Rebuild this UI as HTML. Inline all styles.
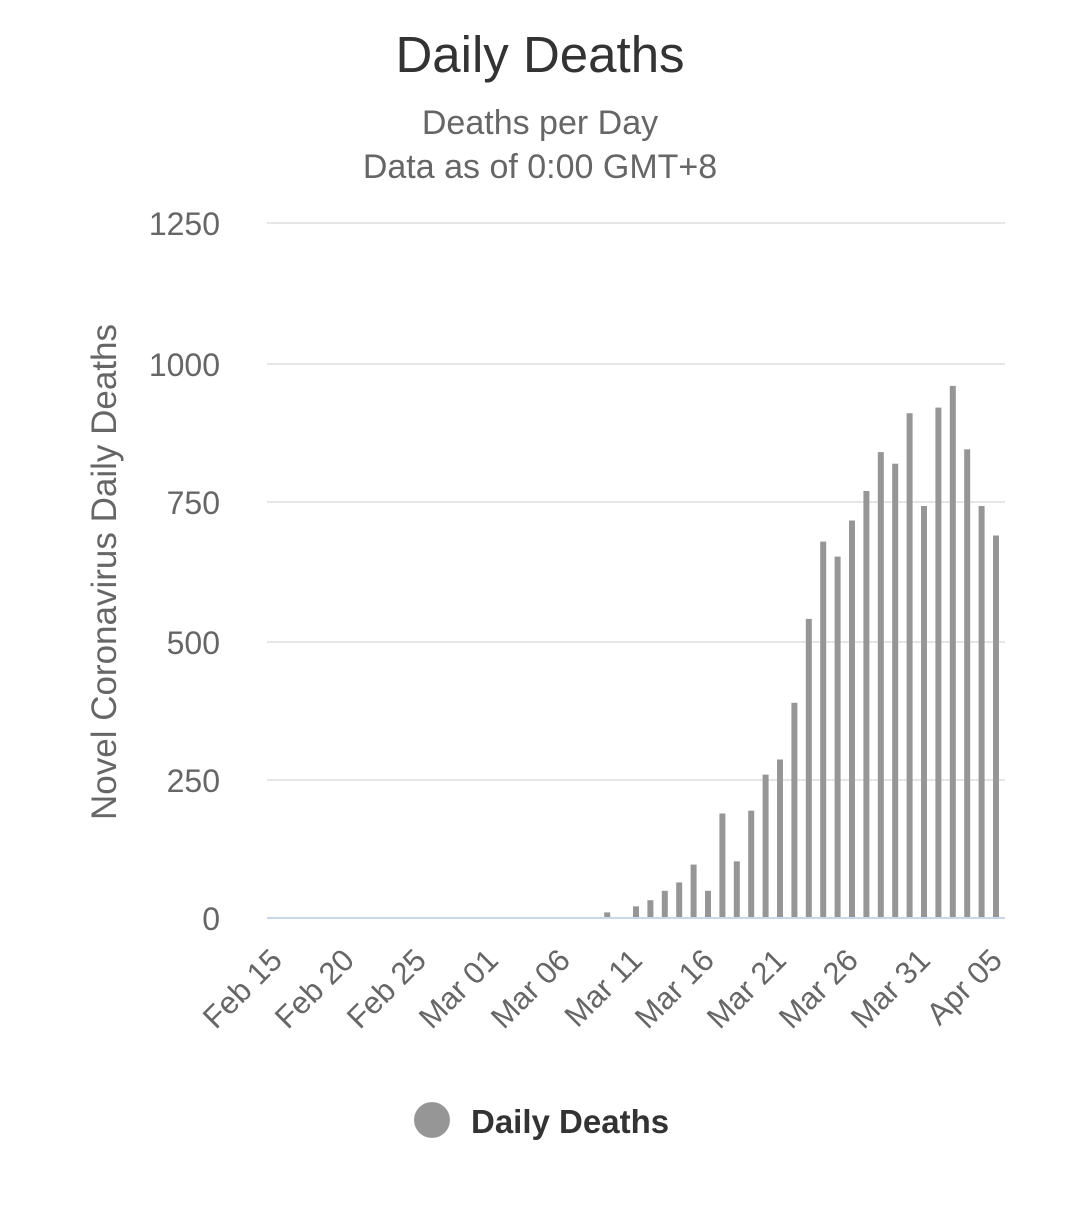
<!DOCTYPE html>
<html><head><meta charset="utf-8"><style>
html,body{margin:0;padding:0;background:#fff;}
svg{display:block;font-family:"Liberation Sans",sans-serif;}
</style></head><body>
<svg width="1079" height="1216" viewBox="0 0 1079 1216">
<rect width="1079" height="1216" fill="#fff"/>
<text x="540" y="72" text-anchor="middle" font-size="51" fill="#333">Daily Deaths</text>
<text x="540" y="134" text-anchor="middle" font-size="34" fill="#666">Deaths per Day</text>
<text x="540" y="178" text-anchor="middle" font-size="34" fill="#666">Data as of 0:00 GMT+8</text>
<g stroke="#e6e6e6" stroke-width="2">
<line x1="267" x2="1005" y1="223" y2="223"/>
<line x1="267" x2="1005" y1="364" y2="364"/>
<line x1="267" x2="1005" y1="502" y2="502"/>
<line x1="267" x2="1005" y1="642" y2="642"/>
<line x1="267" x2="1005" y1="780" y2="780"/>
</g>
<g font-size="32" fill="#666" text-anchor="end">
<text x="220" y="235">1250</text>
<text x="220" y="376">1000</text>
<text x="220" y="514">750</text>
<text x="220" y="654">500</text>
<text x="220" y="792">250</text>
<text x="220" y="930">0</text>
</g>
<text transform="translate(116,572) rotate(-90)" text-anchor="middle" font-size="35" fill="#666">Novel Coronavirus Daily Deaths</text>
<g fill="#969696">
<rect x="604.2" y="912.4" width="6" height="5.6"/>
<rect x="633" y="906.3" width="6" height="11.7"/>
<rect x="647.4" y="900.2" width="6" height="17.8"/>
<rect x="661.8" y="890.8" width="6" height="27.2"/>
<rect x="676.2" y="882.4" width="6" height="35.6"/>
<rect x="690.6" y="864.6" width="6" height="53.4"/>
<rect x="705" y="890.8" width="6" height="27.2"/>
<rect x="719.4" y="813.5" width="6" height="104.5"/>
<rect x="733.8" y="861.3" width="6" height="56.7"/>
<rect x="748.2" y="810.7" width="6" height="107.3"/>
<rect x="762.6" y="774.6" width="6" height="143.4"/>
<rect x="777" y="759.5" width="6" height="158.5"/>
<rect x="791.4" y="702.8" width="6" height="215.2"/>
<rect x="805.8" y="618.9" width="6" height="299.1"/>
<rect x="820.2" y="541.6" width="6" height="376.4"/>
<rect x="834.6" y="556.6" width="6" height="361.4"/>
<rect x="849" y="520.5" width="6" height="397.5"/>
<rect x="863.4" y="491" width="6" height="427"/>
<rect x="877.8" y="452.1" width="6" height="465.9"/>
<rect x="892.2" y="463.7" width="6" height="454.3"/>
<rect x="906.6" y="413.2" width="6" height="504.8"/>
<rect x="921" y="506" width="6" height="412"/>
<rect x="935.4" y="407.6" width="6" height="510.4"/>
<rect x="949.8" y="385.9" width="6" height="532.1"/>
<rect x="964.2" y="449.3" width="6" height="468.7"/>
<rect x="978.6" y="506" width="6" height="412"/>
<rect x="993" y="535.5" width="6" height="382.5"/>
</g>
<line x1="267" x2="1005" y1="918" y2="918" stroke="#ccd6eb" stroke-width="2"/>
<g font-size="31" fill="#666" text-anchor="end">
<text transform="translate(284,962) rotate(-45)">Feb 15</text>
<text transform="translate(356,962) rotate(-45)">Feb 20</text>
<text transform="translate(428,962) rotate(-45)">Feb 25</text>
<text transform="translate(500,962) rotate(-45)">Mar 01</text>
<text transform="translate(572,962) rotate(-45)">Mar 06</text>
<text transform="translate(644,962) rotate(-45)">Mar 11</text>
<text transform="translate(716,962) rotate(-45)">Mar 16</text>
<text transform="translate(788,962) rotate(-45)">Mar 21</text>
<text transform="translate(860,962) rotate(-45)">Mar 26</text>
<text transform="translate(932,962) rotate(-45)">Mar 31</text>
<text transform="translate(1004,962) rotate(-45)">Apr 05</text>
</g>
<circle cx="432" cy="1120" r="18" fill="#969696"/>
<text x="471" y="1133" font-size="33" font-weight="bold" fill="#333">Daily Deaths</text>
</svg>
</body></html>
